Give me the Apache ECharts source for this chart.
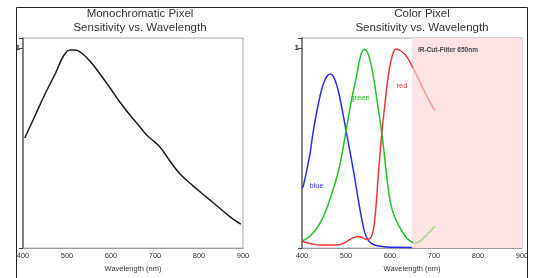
<!DOCTYPE html>
<html>
<head>
<meta charset="utf-8">
<script src="https://cdn.jsdelivr.net/npm/echarts@6/dist/echarts.min.js"></script>
<style>
  html, body { margin: 0; padding: 0; background: #fff; }
  #chart { width: 534px; height: 278px; }
</style>
</head>
<body>
<div id="chart"></div>
<script>
// wavelength (nm) / relative sensitivity
var monoWave = [404, 427, 450, 473, 492, 507, 518, 533, 552, 575, 598, 620, 643, 666, 681, 694, 707, 720, 734, 757, 787, 817, 848, 870, 886, 895];
var monoSens = [0.55, 0.66, 0.77, 0.87, 0.96, 0.99, 0.99, 0.975, 0.935, 0.87, 0.80, 0.73, 0.665, 0.605, 0.565, 0.54, 0.515, 0.48, 0.435, 0.37, 0.31, 0.255, 0.198, 0.157, 0.132, 0.12];

var blueWave = [400, 403, 418, 426, 441, 452, 464, 475, 486, 502, 517, 532, 543, 552, 562, 575, 592, 620, 650];
var blueSens = [0.30, 0.31, 0.47, 0.59, 0.76, 0.84, 0.87, 0.84, 0.75, 0.565, 0.386, 0.19, 0.075, 0.035, 0.018, 0.01, 0.006, 0.004, 0.003];

var greenWave = [400, 418, 441, 460, 479, 490, 501, 513, 524, 533, 542, 552, 562, 573, 581, 588, 594, 604, 619, 638, 653];
var greenSens = [0.035, 0.059, 0.124, 0.222, 0.353, 0.46, 0.598, 0.745, 0.86, 0.96, 0.994, 0.96, 0.86, 0.70, 0.58, 0.45, 0.33, 0.2, 0.116, 0.05, 0.026];
var greenFadeWave = [653, 665, 676, 690, 702];
var greenFadeSens = [0.026, 0.03, 0.05, 0.08, 0.11];

var redWave = [400, 420, 441, 465, 486, 500, 509, 520, 528, 538, 547, 558, 566, 573, 581, 589, 596, 605, 614, 625, 638, 652];
var redSens = [0.034, 0.022, 0.015, 0.015, 0.018, 0.03, 0.043, 0.055, 0.058, 0.052, 0.043, 0.059, 0.157, 0.353, 0.565, 0.73, 0.86, 0.96, 0.995, 0.985, 0.957, 0.90];
var redFadeWave = [652, 664, 676, 691, 702];
var redFadeSens = [0.90, 0.85, 0.794, 0.729, 0.688];

var xTicks = [400, 500, 600, 700, 800, 900];
var irCut = 650;

function pairs(xs, ys) {
    var out = [];
    for (var i = 0; i < xs.length; i++) out.push([xs[i], ys[i]]);
    return out;
}

var font = 'Liberation Sans, Arial, sans-serif';

function xAxisFor(idx) {
    return {
        type: 'value', gridIndex: idx, min: xTicks[0], max: xTicks[xTicks.length - 1], interval: 100,
        name: 'Wavelength (nm)', nameLocation: 'middle', nameGap: 13,
        nameTextStyle: { fontSize: 7.5, color: '#333', fontFamily: font },
        axisLine: { lineStyle: { color: '#999', width: 1 } },
        axisTick: { show: false },
        axisLabel: { fontSize: 7.5, color: '#333', margin: 4, fontFamily: font },
        splitLine: { show: false }
    };
}
function yAxisFor(idx) {
    return {
        type: 'value', gridIndex: idx, min: 0, max: 1.05, interval: 1,
        axisLine: { show: true, lineStyle: { color: '#666', width: 1.5 } },
        axisTick: { show: true, length: 4, inside: false, lineStyle: { color: '#444' } },
        axisLabel: {
            fontSize: 8, color: '#222', fontWeight: 'bold', margin: 3, fontFamily: font,
            formatter: function (v) { return v === 1 ? '1' : ''; }
        },
        splitLine: { show: false }
    };
}

function colorLine(name, xs, ys, color, opacity) {
    return {
        name: name, type: 'line', xAxisIndex: 1, yAxisIndex: 1,
        data: pairs(xs, ys), smooth: 0.4, showSymbol: false, z: 3,
        lineStyle: { color: color, width: 1.5, opacity: opacity }
    };
}

function textMark(x, y, text, color) {
    return {
        symbol: 'circle', symbolSize: 1, silent: true,
        itemStyle: { color: 'rgba(0,0,0,0)' },
        label: { show: true, position: 'inside', formatter: text, color: color, fontSize: 7.5, fontFamily: font },
        data: [{ coord: [x, y] }]
    };
}

var chart = echarts.init(document.getElementById('chart'));

var blueSeries = colorLine('blue', blueWave, blueSens, '#2b2bf5', 1);
blueSeries.markPoint = textMark(433, 0.31, 'blue', '#3a3aff');
var greenSeries = colorLine('green', greenWave, greenSens, '#22c322', 1);
greenSeries.markPoint = textMark(532, 0.75, 'green', '#22c322');
var redSeries = colorLine('red', redWave, redSens, '#f43535', 1);
redSeries.markPoint = textMark(627, 0.81, 'red', '#f43535');
redSeries.markArea = {
    silent: true,
    itemStyle: { color: '#fde3e3', borderWidth: 0 },
    label: {
        show: true, position: 'insideTopLeft', offset: [1, 4],
        formatter: 'IR-Cut-Filter 650nm', color: '#444', fontSize: 6.5, fontWeight: 'bold', fontFamily: font
    },
    data: [[{ xAxis: irCut }, { xAxis: 900 }]]
};

var option = {
    backgroundColor: '#fff',
    animation: false,
    title: [
        { text: 'Monochromatic Pixel\nSensitivity vs. Wavelength', left: 135, top: 2, textAlign: 'center',
          textStyle: { fontSize: 11.5, fontWeight: 'normal', color: '#333', lineHeight: 14, fontFamily: font } },
        { text: 'Color Pixel\nSensitivity vs. Wavelength', left: 417, top: 2, textAlign: 'center',
          textStyle: { fontSize: 11.5, fontWeight: 'normal', color: '#333', lineHeight: 14, fontFamily: font } }
    ],
    grid: [
        { left: 23, right: 291, top: 38, bottom: 26, show: true, borderColor: '#aaa', borderWidth: 1 },
        { left: 302, right: 12, top: 38, bottom: 26, show: true, borderColor: '#aaa', borderWidth: 1 }
    ],
    xAxis: [xAxisFor(0), xAxisFor(1)],
    yAxis: [yAxisFor(0), yAxisFor(1)],
    graphic: [{
        type: 'rect', left: 14, top: 5, silent: true, z: 100,
        shape: { width: 511, height: 272 },
        style: { fill: 'none', stroke: '#222', lineWidth: 1 }
    }],
    series: [
        {
            name: 'mono', type: 'line', xAxisIndex: 0, yAxisIndex: 0,
            data: pairs(monoWave, monoSens), smooth: 0.4, showSymbol: false,
            lineStyle: { color: '#1a1a1a', width: 1.5 }
        },
        blueSeries,
        greenSeries,
        colorLine('green (filtered)', greenFadeWave, greenFadeSens, '#22c322', 0.4),
        redSeries,
        colorLine('red (filtered)', redFadeWave, redFadeSens, '#f43535', 0.4)
    ]
};

chart.setOption(option);
</script>
</body>
</html>
